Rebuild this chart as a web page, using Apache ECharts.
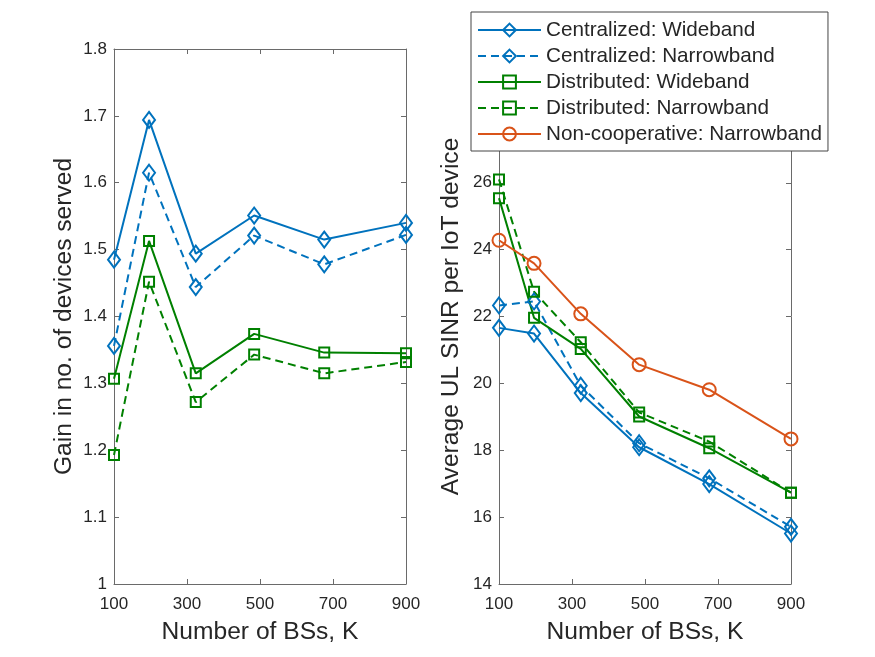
<!DOCTYPE html>
<html>
<head>
<meta charset="utf-8">
<script src="https://cdn.jsdelivr.net/npm/echarts@6/dist/echarts.min.js"></script>
<style>html,body{margin:0;padding:0;background:#fff}#c{width:875px;height:657px}</style>
</head>
<body>
<div id="c"></div>
<script>
// Number of BSs, K
var K = [100, 196, 324, 484, 676, 900];
var xTicks = [100, 300, 500, 700, 900];
// Left: gain in number of devices served
var gainCW = [1.485, 1.694, 1.494, 1.551, 1.515, 1.540];
var gainCN = [1.356, 1.615, 1.444, 1.521, 1.478, 1.522];
var gainDW = [1.307, 1.513, 1.315, 1.374, 1.346, 1.345];
var gainDN = [1.193, 1.452, 1.272, 1.343, 1.315, 1.332];
// Right: average UL SINR per IoT device
var sinrCW = [21.66, 21.49, 19.71, 18.09, 16.99, 15.51];
var sinrCN = [22.33, 22.45, 19.93, 18.21, 17.16, 15.71];
var sinrDW = [25.54, 21.96, 21.03, 19.01, 18.06, 16.73];
var sinrDN = [26.10, 22.74, 21.23, 19.13, 18.26, 16.73];
var sinrNC = [24.28, 23.59, 22.08, 20.56, 19.81, 18.34];

var names = ['Centralized: Wideband', 'Centralized: Narrowband', 'Distributed: Wideband', 'Distributed: Narrowband', 'Non-cooperative: Narrowband'];

var BLUE = '#0072BD', GREEN = '#008000', ORANGE = '#D95319';
var FONT = "'Liberation Sans', Arial, Helvetica, sans-serif";
var AX = '#6a6a6a', TXT = '#262626';

function pairs(ys) { return K.map(function (k, i) { return [k, ys[i]]; }); }

function mk(name, ys, color, dashed, symbol, size, axis) {
  return {
    type: 'line', name: name, data: pairs(ys),
    xAxisIndex: axis, yAxisIndex: axis,
    symbol: symbol, symbolSize: size, showSymbol: true,
    color: color,
    lineStyle: { color: color, width: 2, type: dashed ? [8, 5] : 'solid' },
    itemStyle: { color: 'rgba(255,255,255,0)', borderColor: color, borderWidth: 2 },
    emphasis: { disabled: true },
    z: 3
  };
}

function xAx(grid, pos, labels) {
  return {
    type: 'value', gridIndex: grid, position: pos, min: 100, max: 900, interval: 200,
    axisLine: { show: true, onZero: false, lineStyle: { color: AX, width: 1 } },
    axisTick: { show: true, inside: true, length: 5, lineStyle: { color: AX } },
    axisLabel: { show: labels, margin: 12, fontSize: 17, color: TXT, fontFamily: FONT },
    splitLine: { show: false },
    name: labels ? 'Number of BSs, K' : '', nameLocation: 'middle', nameGap: 36,
    nameTextStyle: { fontSize: 24.6, color: TXT, fontFamily: FONT }
  };
}
function yAx(grid, pos, labels, min, max, interval, name, gap) {
  return {
    type: 'value', gridIndex: grid, position: pos, min: min, max: max, interval: interval,
    axisLine: { show: true, onZero: false, lineStyle: { color: AX, width: 1 } },
    axisTick: { show: true, inside: true, length: 5, lineStyle: { color: AX } },
    axisLabel: { show: labels, margin: 7, fontSize: 17, color: TXT, fontFamily: FONT },
    splitLine: { show: false },
    name: labels ? name : '', nameLocation: 'middle', nameGap: gap,
    nameTextStyle: { fontSize: 24.6, color: TXT, fontFamily: FONT }
  };
}

var option = {
  animation: false,
  backgroundColor: '#fff',
  textStyle: { fontFamily: FONT },
  grid: [
    { left: 114, top: 49, width: 292, height: 535 },
    { left: 499, top: 49, width: 292, height: 535 }
  ],
  xAxis: [
    xAx(0, 'bottom', true), xAx(0, 'top', false),
    xAx(1, 'bottom', true), xAx(1, 'top', false)
  ],
  yAxis: [
    yAx(0, 'left', true, 1, 1.8, 0.1, 'Gain in no. of devices served', 37),
    yAx(0, 'right', false, 1, 1.8, 0.1, '', 0),
    yAx(1, 'left', true, 14, 30, 2, 'Average UL SINR per IoT device', 35),
    yAx(1, 'right', false, 14, 30, 2, '', 0)
  ],
  legend: {
    orient: 'vertical', left: 471, top: 12,
    data: names,
    itemWidth: 63, itemHeight: 16, itemGap: 4,
    padding: [7, 6, 6, 6],
    backgroundColor: '#fff', borderColor: '#444', borderWidth: 1, borderRadius: 0,
    textStyle: { fontSize: 20.7, lineHeight: 22, color: TXT, fontFamily: FONT },
    selectedMode: false,
    z: 10
  },
  series: [
    mk(names[0], gainCW, BLUE, false, 'diamond', [12, 16], 0),
    mk(names[1], gainCN, BLUE, true, 'diamond', [12, 16], 0),
    mk(names[2], gainDW, GREEN, false, 'rect', 10, 0),
    mk(names[3], gainDN, GREEN, true, 'rect', 10, 0),
    mk(names[0], sinrCW, BLUE, false, 'diamond', [12, 16], 2),
    mk(names[1], sinrCN, BLUE, true, 'diamond', [12, 16], 2),
    mk(names[2], sinrDW, GREEN, false, 'rect', 10, 2),
    mk(names[3], sinrDN, GREEN, true, 'rect', 10, 2),
    mk(names[4], sinrNC, ORANGE, false, 'circle', 13, 2)
  ]
};
var chart = echarts.init(document.getElementById('c'), null, { renderer: 'canvas' });
chart.setOption(option);
</script>
</body>
</html>
